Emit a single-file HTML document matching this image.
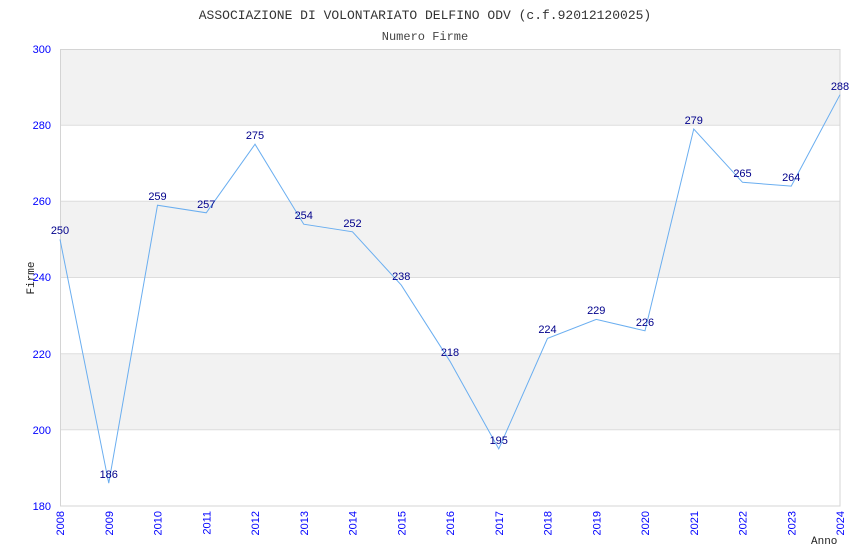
<!DOCTYPE html>
<html><head><meta charset="utf-8"><style>body{margin:0;background:#fff}svg{display:block}</style></head><body>
<svg width="850" height="550" xmlns="http://www.w3.org/2000/svg">
<text x="425" y="19" text-anchor="middle" font-family="Liberation Mono, monospace" font-size="13" fill="#333">ASSOCIAZIONE DI VOLONTARIATO DELFINO ODV (c.f.92012120025)</text>
<text x="425" y="40" text-anchor="middle" font-family="Liberation Mono, monospace" font-size="12" fill="#444">Numero Firme</text>
<rect x="60" y="49" width="780" height="76.2" fill="#f2f2f2"/>
<rect x="60" y="201.3" width="780" height="76.2" fill="#f2f2f2"/>
<rect x="60" y="353.7" width="780" height="76.2" fill="#f2f2f2"/>
<g stroke="#ddd" stroke-width="1">
<line x1="60" y1="125.2" x2="840" y2="125.2"/><line x1="60" y1="201.3" x2="840" y2="201.3"/><line x1="60" y1="277.5" x2="840" y2="277.5"/><line x1="60" y1="353.7" x2="840" y2="353.7"/><line x1="60" y1="429.8" x2="840" y2="429.8"/>
</g>
<rect x="60.5" y="49.5" width="779.5" height="456.5" fill="none" stroke="#d4d4d4"/>
<g font-family="Liberation Sans, sans-serif" font-size="11" fill="#00f" text-anchor="end">
<text x="51" y="53">300</text><text x="51" y="129">280</text><text x="51" y="205">260</text><text x="51" y="281">240</text><text x="51" y="358">220</text><text x="51" y="434">200</text><text x="51" y="510">180</text>
</g>
<g font-family="Liberation Sans, sans-serif" font-size="11" fill="#00f" text-anchor="end">
<text transform="translate(64,511) rotate(-90)">2008</text>
<text transform="translate(112.75,511) rotate(-90)">2009</text>
<text transform="translate(161.5,511) rotate(-90)">2010</text>
<text transform="translate(210.25,511) rotate(-90)">2011</text>
<text transform="translate(259,511) rotate(-90)">2012</text>
<text transform="translate(307.75,511) rotate(-90)">2013</text>
<text transform="translate(356.5,511) rotate(-90)">2014</text>
<text transform="translate(405.25,511) rotate(-90)">2015</text>
<text transform="translate(454,511) rotate(-90)">2016</text>
<text transform="translate(502.75,511) rotate(-90)">2017</text>
<text transform="translate(551.5,511) rotate(-90)">2018</text>
<text transform="translate(600.25,511) rotate(-90)">2019</text>
<text transform="translate(649,511) rotate(-90)">2020</text>
<text transform="translate(697.75,511) rotate(-90)">2021</text>
<text transform="translate(746.5,511) rotate(-90)">2022</text>
<text transform="translate(795.25,511) rotate(-90)">2023</text>
<text transform="translate(844,511) rotate(-90)">2024</text>
</g>
<text transform="translate(34,278) rotate(-90)" text-anchor="middle" font-family="Liberation Mono, monospace" font-size="11" fill="#222">Firme</text>
<text x="811" y="544" font-family="Liberation Mono, monospace" font-size="11" fill="#222">Anno</text>
<polyline fill="none" stroke="#6aaef0" stroke-width="1" points="60,239.4 108.75,483.2 157.5,205.2 206.25,212.8 255,144.2 303.75,224.2 352.5,231.8 401.25,285.1 450,361.3 498.75,448.9 547.5,338.4 596.25,319.4 645,330.8 693.75,129 742.5,182.3 791.25,186.1 840,94.7"/>
<g font-family="Liberation Sans, sans-serif" font-size="11" fill="#00008b" text-anchor="middle">
<text x="60" y="234">250</text><text x="108.75" y="478">186</text><text x="157.5" y="200">259</text><text x="206.25" y="208">257</text><text x="255" y="139">275</text><text x="303.75" y="219">254</text><text x="352.5" y="227">252</text><text x="401.25" y="280">238</text><text x="450" y="356">218</text><text x="498.75" y="444">195</text><text x="547.5" y="333">224</text><text x="596.25" y="314">229</text><text x="645" y="326">226</text><text x="693.75" y="124">279</text><text x="742.5" y="177">265</text><text x="791.25" y="181">264</text><text x="840" y="90">288</text>
</g>
</svg>
</body></html>
